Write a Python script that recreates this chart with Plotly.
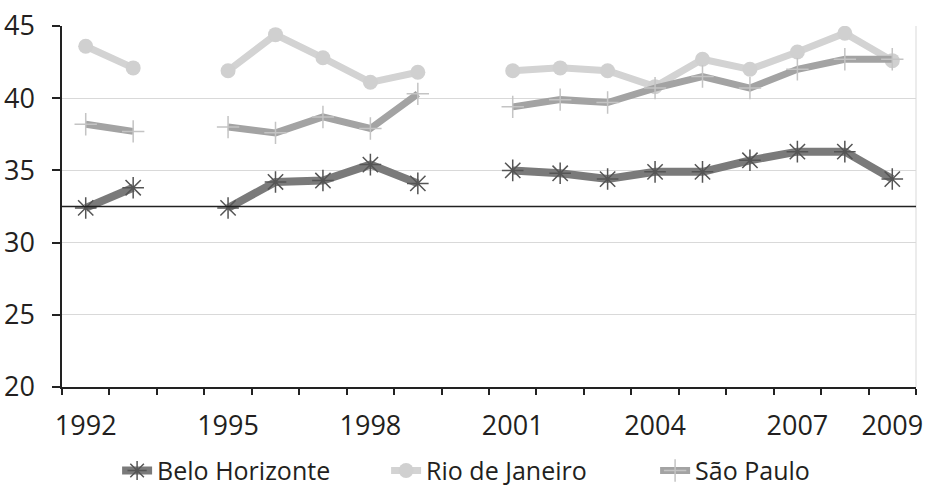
import plotly.graph_objects as go

years = [str(y) for y in range(1992, 2010)]
tick_labels = ["1992", "", "", "1995", "", "", "1998", "", "", "2001", "", "", "2004", "", "", "2007", "", "2009"]

belo_horizonte = [32.4, 33.8, None, 32.4, 34.2, 34.3, 35.4, 34.1, None, 35.0, 34.8, 34.4, 34.9, 34.9, 35.7, 36.3, 36.3, 34.4]
rio_de_janeiro = [43.6, 42.1, None, 41.9, 44.4, 42.8, 41.1, 41.8, None, 41.9, 42.1, 41.9, 40.8, 42.7, 42.0, 43.2, 44.5, 42.6]
sao_paulo = [38.2, 37.7, None, 38.0, 37.6, 38.7, 37.9, 40.3, None, 39.4, 39.9, 39.7, 40.7, 41.5, 40.7, 42.0, 42.7, 42.7]
reference_value = 32.5

FONT = "Open Sans"
TXT = "#231f20"

fig = go.Figure()
fig.add_trace(go.Scatter(
    x=years, y=belo_horizonte, name="Belo Horizonte", mode="lines+markers",
    connectgaps=False,
    line=dict(color="#7a7a7a", width=8),
    marker=dict(symbol="asterisk-open", size=18, color="#555555", line=dict(color="#555555", width=1.5)),
))
fig.add_trace(go.Scatter(
    x=years, y=rio_de_janeiro, name="Rio de Janeiro", mode="lines+markers",
    connectgaps=False,
    line=dict(color="#d3d3d3", width=7),
    marker=dict(symbol="circle", size=15, color="#d0d0d0"),
))
fig.add_trace(go.Scatter(
    x=years, y=sao_paulo, name="São Paulo", mode="lines+markers",
    connectgaps=False,
    line=dict(color="#a3a3a3", width=7),
    marker=dict(symbol="cross-thin-open", size=16, color="#c4c4c4", line=dict(color="#c4c4c4", width=1.5)),
))

fig.add_shape(type="line", xref="paper", yref="y", x0=0, x1=1, y0=reference_value, y1=reference_value,
              line=dict(color="#222222", width=1.5))
fig.add_shape(type="line", xref="paper", yref="paper", x0=1, x1=1, y0=0, y1=1,
              line=dict(color="#d9d9d9", width=1), layer="below")

fig.update_layout(
    width=928, height=488,
    margin=dict(l=62, r=12, t=26, b=101, autoexpand=False),
    paper_bgcolor="white", plot_bgcolor="white",
    font=dict(family=FONT, color=TXT),
    showlegend=True,
    legend=dict(orientation="h", x=0.537, xanchor="center", y=-0.232, yanchor="middle",
                font=dict(size=25, color=TXT, family=FONT), itemwidth=30, tracegroupgap=0,
                borderwidth=0, entrywidth=224, entrywidthmode="pixels"),
    xaxis=dict(
        type="category", tickmode="array", tickvals=years, ticktext=tick_labels,
        tickson="boundaries", ticks="outside", ticklen=6, tickcolor="#222222", tickwidth=1.5,
        showline=True, linecolor="#222222", linewidth=1.5, showgrid=False, zeroline=False,
        tickfont=dict(size=27, color=TXT, family=FONT), range=[-0.5, 17.5],
        tickangle=0, automargin=False, ticklabelstandoff=14,
    ),
    yaxis=dict(
        range=[20, 45], dtick=5, tick0=20, ticks="outside", ticklen=8, tickcolor="#222222", tickwidth=1.5,
        showline=True, linecolor="#222222", linewidth=1.5, showgrid=True, gridcolor="#d9d9d9", gridwidth=1,
        zeroline=False, tickfont=dict(size=27, color=TXT, family=FONT), automargin=False,
        ticklabelstandoff=12,
    ),
)

fig.write_html("out.html", config={"displayModeBar": False},
               post_script="document.body.style.margin='0';document.body.style.overflow='hidden';")
